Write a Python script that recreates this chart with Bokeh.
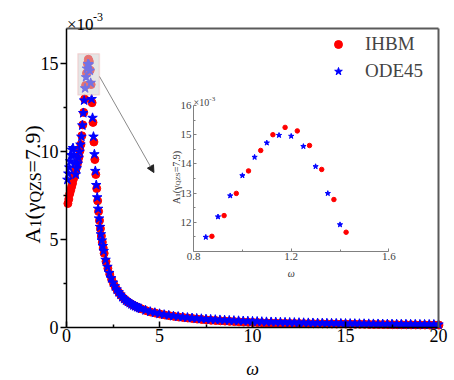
import numpy as np
from bokeh.plotting import figure
from bokeh.models import (Range1d, LinearAxis, FixedTicker, Label, Legend, LegendItem,
                          BoxAnnotation, Arrow, NormalHead)
from bokeh.embed import file_html
from bokeh.resources import INLINE

# ---------------- data (amplitudes in units of 1e-3) ----------------
# frequency sweep grid (ODE45); IHBM grid offset by half a step
ode45_omega = np.round(np.concatenate([np.arange(1, 41) * 0.05,
                                       2.0 + np.arange(1, 21) * 0.1,
                                       4.0 + np.arange(1, 65) * 0.25]), 3)
ihbm_omega = np.round(ode45_omega + 0.025, 3)

ode45_a1 = [
    8.40, 8.75, 9.10, 9.45, 9.80, 10.10, 10.20, 9.80, 9.35, 8.70,
    9.05, 9.30, 9.65, 10.00, 10.40, 10.85, 11.49, 12.19, 12.91, 13.60,
    14.23, 14.72, 14.98, 14.95, 14.60, 13.91, 12.99, 11.92, 10.85, 9.85,
    8.90, 8.10, 7.40, 6.75, 6.20, 5.72, 5.30, 4.95, 4.63, 4.35,
    3.85, 3.45, 3.10, 2.80, 2.55, 2.34, 2.16, 2.01, 1.87, 1.73,
    1.63, 1.54, 1.46, 1.39, 1.32, 1.26, 1.21, 1.16, 1.11, 1.07,
    0.98, 0.90, 0.84, 0.78, 0.73, 0.69, 0.65, 0.62, 0.59, 0.565,
    0.54, 0.515, 0.495, 0.475, 0.46, 0.445, 0.43, 0.415, 0.40, 0.39,
    0.38, 0.37, 0.36, 0.35, 0.34, 0.33, 0.32, 0.315, 0.306, 0.30,
    0.292, 0.285, 0.279, 0.273, 0.268, 0.262, 0.257, 0.252, 0.247, 0.242,
    0.238, 0.234, 0.230, 0.225, 0.221, 0.218, 0.214, 0.211, 0.207, 0.204,
    0.201, 0.198, 0.195, 0.192, 0.189, 0.186, 0.184, 0.181, 0.179, 0.176,
    0.174, 0.172, 0.169, 0.167]

ihbm_a1 = [
    7.05, 7.30, 7.60, 7.80, 8.00, 8.20, 8.45, 8.65, 8.85, 9.05,
    9.25, 9.45, 9.70, 10.05, 10.40, 10.90, 11.52, 12.23, 12.99, 13.76,
    14.46, 15.00, 15.25, 15.13, 14.63, 13.81, 12.78, 11.66, 10.55, 9.55,
    8.70, 7.90, 7.20, 6.60, 6.08, 5.62, 5.20, 4.85, 4.52, 4.22,
    3.75, 3.36, 3.03, 2.74, 2.50, 2.30, 2.12, 1.97, 1.84, 1.71,
    1.61, 1.52, 1.44, 1.37, 1.31, 1.25, 1.20, 1.15, 1.10, 1.06,
    0.96, 0.88, 0.82, 0.765, 0.715, 0.675, 0.635, 0.60, 0.57, 0.54,
    0.51, 0.48, 0.455, 0.43, 0.41, 0.395, 0.38, 0.365, 0.35, 0.335,
    0.32, 0.31, 0.30, 0.29, 0.28, 0.27, 0.26, 0.255, 0.246, 0.24,
    0.236, 0.231, 0.227, 0.223, 0.220, 0.217, 0.214, 0.211, 0.208, 0.205,
    0.203, 0.200, 0.197, 0.193, 0.190, 0.187, 0.184, 0.181, 0.177, 0.174,
    0.171, 0.168, 0.165, 0.162, 0.159, 0.156, 0.154, 0.151, 0.149, 0.146,
    0.144, 0.142, 0.139, 0.137]

x_window = (0, 20)
y_window = (0, 17)
x_ticks = [0, 5, 10, 15, 20]
x_minor = [2.5, 7.5, 12.5, 17.5]
y_ticks = [0, 5, 10, 15]
y_minor = [2.5, 7.5, 12.5]
inset_x_window = (0.8, 1.6)
inset_y_window = (11, 16)
inset_x_ticks = [0.8, 1.2, 1.6]
inset_x_minor = [1.0, 1.4]
inset_y_ticks = [12, 13, 14, 15, 16]
inset_y_minor = [11.5, 12.5, 13.5, 14.5, 15.5]

# ---------------- layout constants (canvas pixels) ----------------
W, H = 454, 380
FL, FR, FT, FB = 66, 438, 28, 327          # main axes box
IL, IR, IT, IB = 193.1, 388.3, 105.0, 251.0  # inset axes box
FONT = "Liberation Serif"


def full_range(win, lo_px, hi_px, total, flip=False):
    """Range spanning the whole canvas so that win maps onto [lo_px, hi_px]."""
    s = (win[1] - win[0]) / (hi_px - lo_px)
    if flip:  # vertical: lo_px is the top pixel of the window
        return Range1d(win[0] - (total - hi_px) * s, win[1] + lo_px * s)
    return Range1d(win[0] - lo_px * s, win[1] + (total - hi_px) * s)


p = figure(width=W, height=H,
           x_range=full_range(x_window, FL, FR, W),
           y_range=full_range(y_window, FT, FB, H, flip=True),
           output_backend="svg", toolbar_location=None,
           x_axis_location=None, y_axis_location=None,
           min_border=0, min_border_left=0, min_border_right=0,
           min_border_top=0, min_border_bottom=0)
p.title.visible = False
p.xgrid.visible = False
p.ygrid.visible = False
p.background_fill_color = "white"
p.border_fill_color = "white"
p.outline_line_color = None
p.extra_x_ranges = {"ix": full_range(inset_x_window, IL, IR, W)}
p.extra_y_ranges = {"iy": full_range(inset_y_window, IT, IB, H, flip=True)}


def style_axis(ax, color, lw, size, label_color, t_in, t_out, m_in, m_out, standoff):
    ax.axis_line_color = color
    ax.axis_line_width = lw
    ax.major_tick_line_color = color
    ax.major_tick_line_width = lw
    ax.minor_tick_line_color = color
    ax.minor_tick_line_width = lw
    ax.major_tick_in, ax.major_tick_out = t_in, t_out
    ax.minor_tick_in, ax.minor_tick_out = m_in, m_out
    ax.major_label_text_font = FONT
    ax.major_label_text_font_style = "normal"
    ax.major_label_text_font_size = size
    ax.major_label_text_color = label_color
    ax.major_label_standoff = standoff


# ---------------- main axes ----------------
xa = LinearAxis(fixed_location=y_window[0], bounds=x_window,
                ticker=FixedTicker(ticks=x_ticks, minor_ticks=x_minor))
ya = LinearAxis(fixed_location=x_window[0], bounds=y_window,
                ticker=FixedTicker(ticks=y_ticks, minor_ticks=y_minor))
style_axis(xa, "black", 1.5, "18px", "black", 6, 0, 3, 0, 1)
style_axis(ya, "black", 1.5, "18px", "black", 0, 6, 0, 3, 2)
top = LinearAxis(fixed_location=y_window[1], bounds=x_window,
                 ticker=FixedTicker(ticks=[], minor_ticks=[]))
right = LinearAxis(fixed_location=x_window[1], bounds=y_window,
                   ticker=FixedTicker(ticks=[], minor_ticks=[]))
for ax in (top, right):
    ax.axis_line_color = "#5a5a5a"
    ax.axis_line_width = 2
    ax.major_label_text_alpha = 0
p.add_layout(xa, "below")
p.add_layout(ya, "left")
p.add_layout(top, "above")
p.add_layout(right, "right")

# ---------------- main series ----------------
r_red = p.scatter(ihbm_omega, ihbm_a1, marker="circle", size=8,
                  fill_color="#ff0000", line_color="#ff0000")
r_blue = p.scatter(ode45_omega, ode45_a1, marker="star", size=10,
                   fill_color="#0000ff", line_color="#0000ff")

# highlight box and arrow to inset
p.add_layout(BoxAnnotation(left=0.61, right=1.77, bottom=13.22, top=15.56,
                           fill_color="#d0d0d0", fill_alpha=0.55,
                           line_color="#f2a0a0", line_width=1.5))
p.add_layout(Arrow(x_start=1.774, y_start=14.27, x_end=4.70, y_end=8.81,
                   line_color="#8a8a8a", line_width=1,
                   end=NormalHead(size=7, fill_color="#222222", line_color="#222222")))

# ---------------- inset ----------------
ihbm_x = np.array(ihbm_omega)
ihbm_y = np.array(ihbm_a1)
ode_x = np.array(ode45_omega)
ode_y = np.array(ode45_a1)
m_r = (ihbm_x >= inset_x_window[0]) & (ihbm_x <= inset_x_window[1]) & \
      (ihbm_y >= inset_y_window[0]) & (ihbm_y <= inset_y_window[1])
m_b = (ode_x >= inset_x_window[0]) & (ode_x <= inset_x_window[1]) & \
      (ode_y >= inset_y_window[0]) & (ode_y <= inset_y_window[1])
p.scatter(ihbm_x[m_r], ihbm_y[m_r], marker="circle", size=4.5,
          fill_color="#ff0000", line_color="#ff0000",
          x_range_name="ix", y_range_name="iy")
p.scatter(ode_x[m_b], ode_y[m_b], marker="star", size=5.5,
          fill_color="#0000ff", line_color="#0000ff",
          x_range_name="ix", y_range_name="iy")

iax = LinearAxis(x_range_name="ix", y_range_name="iy",
                 fixed_location=inset_y_window[0], bounds=inset_x_window,
                 ticker=FixedTicker(ticks=inset_x_ticks, minor_ticks=inset_x_minor))
iay = LinearAxis(x_range_name="ix", y_range_name="iy",
                 fixed_location=inset_x_window[0], bounds=inset_y_window,
                 ticker=FixedTicker(ticks=inset_y_ticks, minor_ticks=inset_y_minor))
style_axis(iax, "#808080", 1, "11px", "#444444", 3, 0, 2, 0, 1)
style_axis(iay, "#808080", 1, "11px", "#444444", 3, 0, 2, 0, 2)
p.add_layout(iax, "below")
p.add_layout(iay, "left")

# ---------------- texts ----------------
EM = {"A": .722, "1": .5, "(": .333, ")": .333, "γ": .44, "Q": .722, "Z": .611,
      "S": .556, "=": .564, "7": .5, ".": .25, "9": .5}


def tw(txt, size):
    return sum(EM.get(c, .5) for c in txt) * size


def label(px, py, txt, size, color="black", italic=False, align="left", angle=0.0):
    p.add_layout(Label(x=px, y=H - py, x_units="screen", y_units="screen",
                       text=txt, text_font=FONT, text_font_size=f"{size}px",
                       text_color=color, text_align=align, text_baseline="alphabetic",
                       text_font_style="italic" if italic else "normal", angle=angle))


def vlabel(base_x, start_y, pieces, sub_shift, color):
    y = start_y
    for txt, size, sub in pieces:
        label(base_x + (sub_shift if sub else 0), y, txt, size, color=color, angle=np.pi / 2)
        y -= tw(txt, size)


# main y label  A1(γQZS=7.9)
vlabel(31.5, 243, [("A", 22, False), ("1", 16, True), ("(γ", 22, False),
                   ("QZS", 16, True), ("=7.9)", 22, False)], 3.5, "black")
# main x label
label((FL + FR) / 2, 368, "ω", 18, italic=True, align="center")
# main exponent
label(66.5, 23.5, "×10", 17)
label(92.5, 16.5, "-3", 12)

# inset labels
vlabel(175.5, 203.5, [("A", 10, False), ("1", 7, True), ("(γ", 10, False),
                      ("QZS", 7, True), ("=7.9)", 10, False)], 1.6, "#333333")
label((IL + IR) / 2, 273, "ω", 10, color="#333333", italic=True, align="center")
label(193.0, 101.5, "×10", 10, color="#444444")
label(208.8, 98.0, "-3", 7, color="#444444")

# legend
legend = Legend(items=[LegendItem(label="IHBM", renderers=[r_red]),
                       LegendItem(label="ODE45", renderers=[r_blue])],
                location=(328, H - 82), padding=0, margin=0, spacing=5,
                label_height=20, glyph_width=20, glyph_height=20, label_standoff=17,
                border_line_alpha=0, background_fill_alpha=0,
                label_text_font=FONT, label_text_font_style="normal",
                label_text_font_size="19px")
p.add_layout(legend)

open("out.html", "w").write(file_html(p, INLINE))
